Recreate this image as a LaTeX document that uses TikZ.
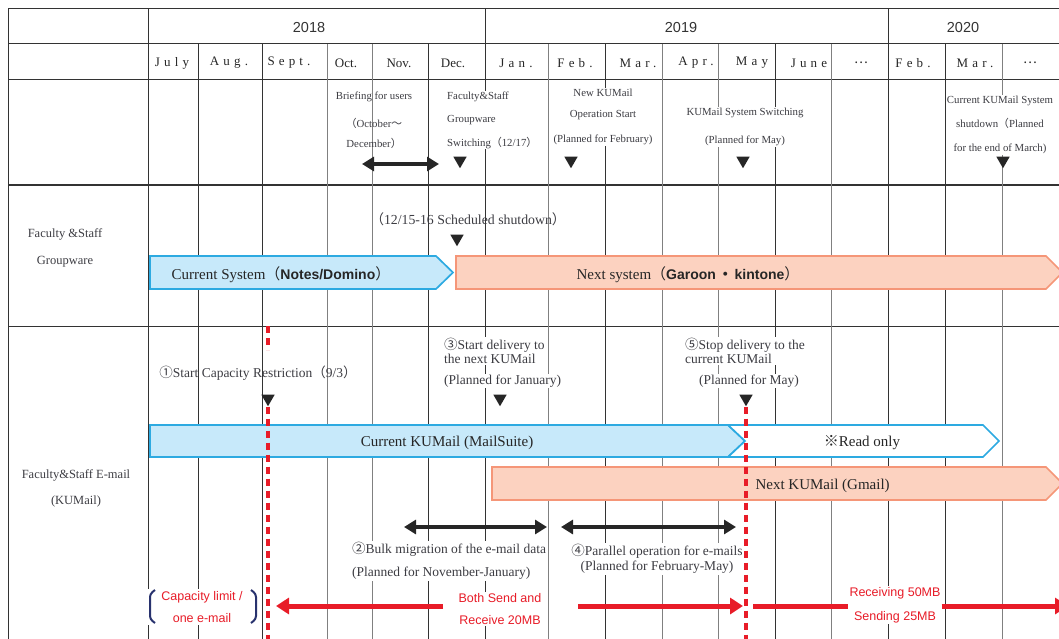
\documentclass[tikz,border=0pt]{standalone}
\usepackage{fontspec}
\setmainfont{Liberation Serif}
\setsansfont{Liberation Sans}
\newfontfamily\cjk{Noto Sans CJK JP}
\usepackage{tikz}
\usetikzlibrary{positioning,arrows.meta,shapes.geometric}
\definecolor{barblue}{RGB}{199,233,250}
\definecolor{edgeblue}{RGB}{45,170,225}
\definecolor{barpink}{RGB}{252,210,192}
\definecolor{edgepink}{RGB}{245,150,120}
\definecolor{limred}{RGB}{232,28,40}
\definecolor{ink}{RGB}{60,60,66}
\definecolor{brkblue}{RGB}{40,50,110}
\newcommand{\fw}[1]{{\cjk #1}}
\newcommand{\spaced}[1]{{\addfontfeature{LetterSpace=32}#1}}

\begin{document}
\begin{tikzpicture}[x=1pt, y=-1pt,
    rule/.style={draw=black!80, line width=1pt},
    rulelt/.style={draw=black!50, line width=1pt},
    yearlbl/.style={font=\sffamily\fontsize{14.5}{14.5}\selectfont, text=black!80},
    monlbl/.style={font=\fontsize{13}{13}\selectfont, text=black!85},
    rowlbl/.style={font=\fontsize{12.5}{26}\selectfont, text=ink, align=center},
    memo/.style={font=\fontsize{10.8}{23}\selectfont, text=ink, align=center, inner sep=1pt},
    note/.style={font=\fontsize{13.5}{14}\selectfont, text=ink, inner sep=1pt, fill=white},
    redtxt/.style={font=\sffamily\fontsize{12.5}{22}\selectfont, text=limred, align=center, fill=white, inner sep=1pt},
    bartxt/.style={font=\fontsize{15}{15}\selectfont, text=black!85},
    nowbar/.style={fill=barblue, draw=edgeblue, line width=1.7pt},
    nextbar/.style={fill=barpink, draw=edgepink, line width=1.7pt},
    dropmark/.style={regular polygon, regular polygon sides=3, shape border rotate=180, fill=black!85, inner sep=0pt, minimum size=15.5pt},
    cutover/.style={draw=limred, line width=3.4pt, dash pattern=on 7pt off 5pt},
    twoway/.style={draw=black!85, line width=4pt, {Triangle[length=12pt,width=14pt]}-{Triangle[length=12pt,width=14pt]}},
    redarrow/.style={draw=limred, line width=5pt, -{Triangle[length=13pt,width=16pt]}},
    redline/.style={draw=limred, line width=5pt},
    brk/.style={draw=brkblue, line width=2pt, rounded corners=3pt},
  ]
  \useasboundingbox (0,0) rectangle (1059,639);
  \clip (0,0) rectangle (1059,639);
  \foreach \y in {9,44,80,185,326} \draw[rule] (8,\y) -- (1059,\y);
  \foreach \x in {8,148,485,888} \draw[rule] (\x,9) -- (\x,639);
  \foreach \x in {198,262,428,605,775,945} \draw[rule] (\x,44) -- (\x,639);
  \foreach \x in {327,372,548,662,718,831,1002} \draw[rulelt] (\x,44) -- (\x,639);

  \node[yearlbl] (y2018) at (309,28) {2018};
  \node[yearlbl] (y2019) at (681,28) {2019};
  \node[yearlbl] (y2020) at (963,28) {2020};
  \foreach \x/\m [count=\i] in {172/\spaced{July}, 229/\spaced{Aug.}, 289/\spaced{Sept.},
      346/Oct., 399/Nov., 453/Dec., 516/\spaced{Jan.}, 575/\spaced{Feb.}, 638/\spaced{Mar.},
      696/\spaced{Apr.}, 752/\spaced{May}, 809/\spaced{June}, 861/\fw{…},
      913/\spaced{Feb.}, 975/\spaced{Mar.}, 1030/\fw{…}}
    \node[monlbl] (mon\i) at (\x,63) {\m};

  \node[memo, font=\fontsize{10.8}{20}\selectfont] (brief) at (374,120) {Briefing for users\\[8pt]\fw{（}October\fw{～}\\December\fw{）}};
  \node[memo, fill=white, align=left, anchor=west, font=\fontsize{10.8}{23.5}\selectfont] (gwswitch) at (446,120) {Faculty\&Staff\\Groupware\\Switching\fw{（}12/17\fw{）}};
  \node[memo, fill=white] (newstart) at (603,117) {New KUMail\\[-2pt]Operation Start\\[2pt](Planned for February)};
  \node[memo, fill=white, font=\fontsize{10.8}{28}\selectfont] (mailswitch) at (745,127) {KUMail System Switching\\(Planned for May)};
  \node[memo, fill=white, font=\fontsize{10.8}{24}\selectfont] (oldstop) at (1000,125) {Current KUMail System\\shutdown\fw{（}Planned\\for the end of March)};
  \coordinate (brief l) at (362,164);
  \coordinate (brief r) at (439,164);
  \draw[twoway] (brief l) -- (brief r);
  \node[dropmark] (t1) at (460,160.5) {};
  \node[dropmark] (t2) at (571,160.5) {};
  \node[dropmark] (t3) at (743,160.5) {};
  \node[dropmark] (t4) at (1003,160.5) {};

  \node[rowlbl, font=\fontsize{12.5}{27}\selectfont] (gwlbl) at (65,248) {Faculty \&Staff\\Groupware};
  \node[memo, font=\fontsize{13.8}{13.8}\selectfont] (gwdown) at (468,219) {\fw{（}12/15-16 Scheduled shutdown\fw{）}};
  \node[dropmark] (t5) at (457,238.5) {};
  \draw[nowbar] (150,256) -- (436,256) -- (453,272.5) -- (436,289) -- (150,289) -- cycle;
  \draw[nextbar] (456,256) -- (1046,256) -- (1062.5,272.5) -- (1046,289) -- (456,289) -- cycle;
  \node[bartxt] (gwnow) at (281,275) {Current System\fw{（}{\sffamily\bfseries\fontsize{14}{14}\selectfont Notes/Domino}\fw{）}};
  \node[bartxt] (gwnext) at (688,275) {Next system\fw{（}{\sffamily\bfseries\fontsize{14}{14}\selectfont Garoon\,\fw{・}\,kintone}\fw{）}};

  \node[rowlbl] (maillbl) at (76,488) {Faculty\&Staff E-mail\\(KUMail)};
  \draw[nowbar] (150,425) -- (728,425) -- (745,441) -- (728,457) -- (150,457) -- cycle;
  \draw[nowbar, fill=white] (728,425) -- (983,425) -- (999,441) -- (983,457) -- (728,457) -- (745,441) -- cycle;
  \draw[nextbar] (492,467) -- (1046,467) -- (1062.5,483.5) -- (1046,500) -- (492,500) -- cycle;
  \node[bartxt] (mailnow) at (447,443) {Current KUMail (MailSuite)};
  \node[bartxt] (readonly) at (862,443) {\fw{※}Read only};
  \node[note, fill=none, font=\fontsize{13.5}{13.5}\selectfont] (step1) at (258,373) {\fw{①}Start Capacity Restriction\fw{（}9/3\fw{）}};
  \node[note, align=left, anchor=north west] (step3) at (443,337) {\fw{③}Start delivery to\\the next KUMail};
  \node[note, anchor=west] (step3p) at (443,381) {(Planned for January)};
  \node[note, align=left, anchor=north west] (step5) at (684,337) {\fw{⑤}Stop delivery to the\\current KUMail};
  \node[note] (step5p) at (749,381) {(Planned for May)};
  \node[dropmark] (t6) at (268,398.5) {};
  \node[dropmark] (t7) at (500,398.5) {};
  \node[dropmark] (t8) at (746,398.5) {};
  \draw[cutover] (268,326) -- (268,350);
  \draw[cutover] (t6.south) -- (t6.south |- 0,639);
  \draw[cutover] (t8.south) -- (t8.south |- 0,639);
  \node[bartxt, anchor=west] (mailnext) at (752,486) {Next KUMail (Gmail)};

  \coordinate (bulk l) at (404,527);
  \coordinate (bulk r) at (547,527);
  \coordinate (para l) at (561,527);
  \coordinate (para r) at (736,527);
  \draw[twoway] (bulk l) -- (bulk r);
  \draw[twoway] (para l) -- (para r);
  \node[note, align=left, anchor=west, font=\fontsize{13.5}{23}\selectfont] (step2) at (351,561) {\fw{②}Bulk migration of the e-mail data\\(Planned for November-January)};
  \node[note, align=center, font=\fontsize{13.5}{15}\selectfont] (step4) at (657,559) {\fw{④}Parallel operation for e-mails\\(Planned for February-May)};

  \node[redtxt, minimum width=112pt, minimum height=36pt] (caplim) at (202,607) {Capacity limit /\\one e-mail};
  \draw[brk] (155,590) -- (150,594) -- (150,619) -- (155,623);
  \draw[brk] (251,590) -- (256,594) -- (256,619) -- (251,623);
  \node[redtxt] (both) at (500,609) {Both Send and\\Receive 20MB};
  \node[redtxt, font=\sffamily\fontsize{12.5}{24}\selectfont] (recv) at (895,605) {Receiving 50MB\\Sending 25MB};
  \coordinate (old l) at (443,606);
  \coordinate (old tip) at (276,606);
  \coordinate (old r) at (578,606);
  \coordinate (old tip2) at (743,606);
  \coordinate (new l) at (753,606);
  \coordinate (new tip) at (1068,606);
  \draw[redarrow] (old l) -- (old tip);
  \draw[redarrow] (old r) -- (old tip2);
  \draw[redline] (new l) -- (recv.west |- new l);
  \draw[redarrow] (recv.east |- new l) -- (new tip);
\end{tikzpicture}
\end{document}
